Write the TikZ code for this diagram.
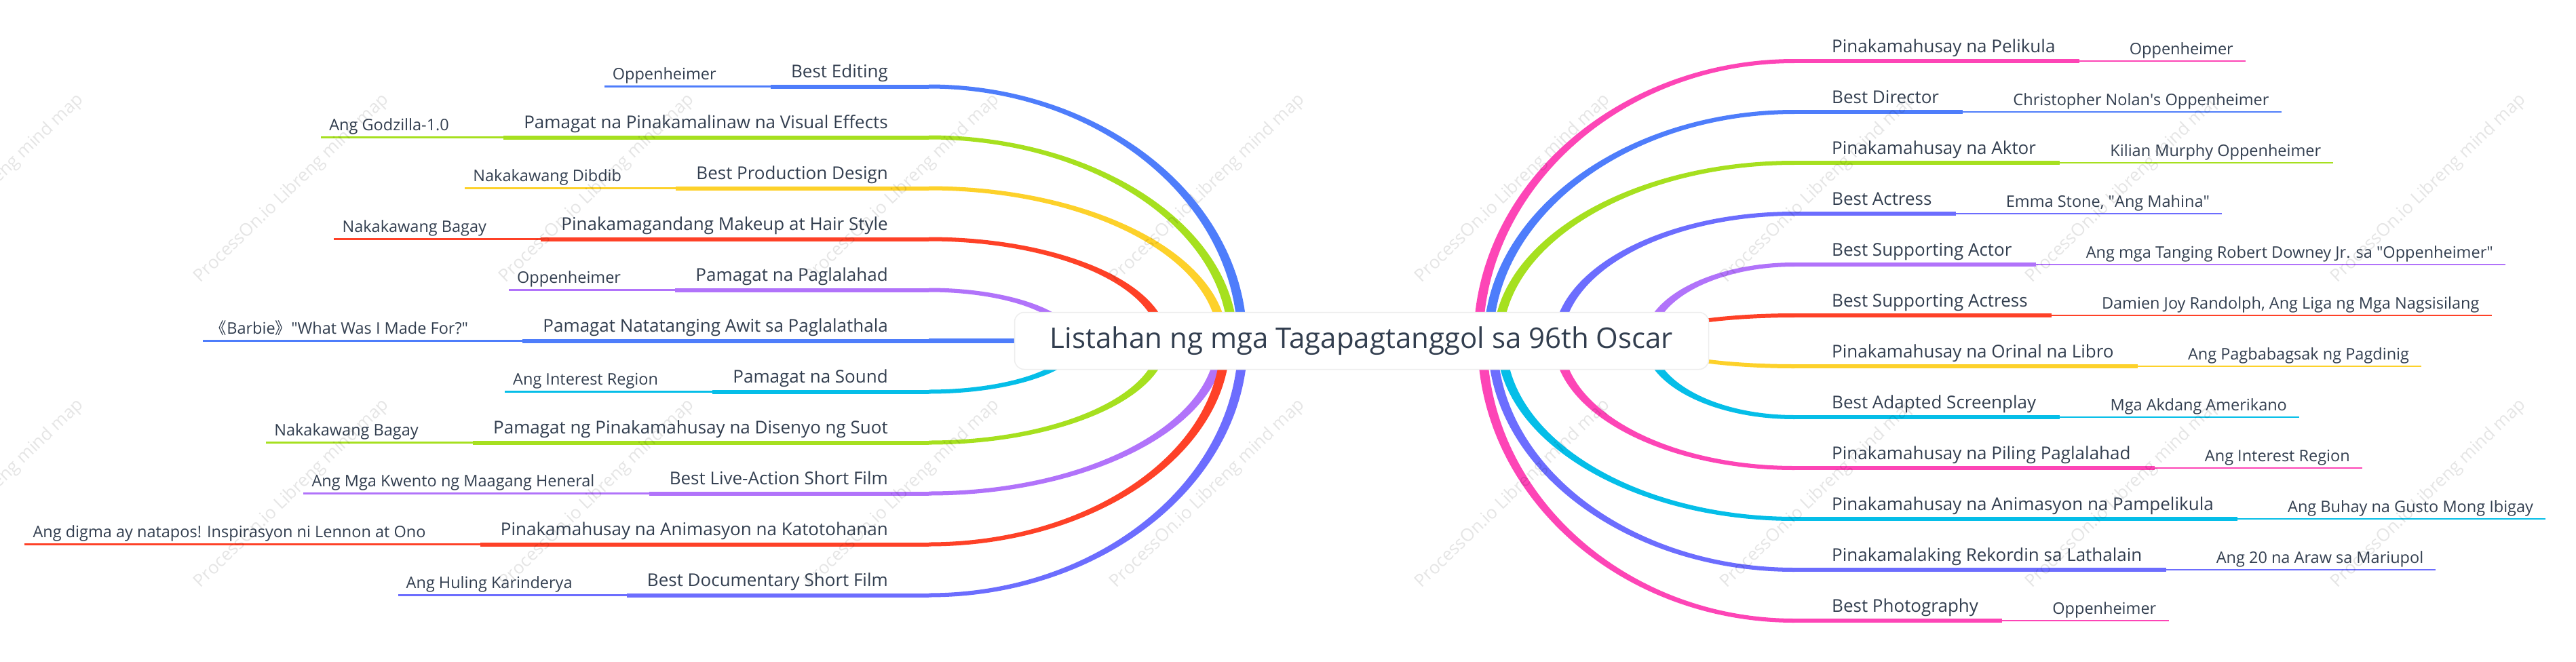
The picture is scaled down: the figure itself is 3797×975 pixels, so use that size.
\documentclass[tikz,border=0pt]{standalone}
\usepackage{fontspec}
\setmainfont{Open Sans}
\newfontfamily\cjk{Noto Sans CJK SC}
\usetikzlibrary{calc}

\definecolor{cblue}{HTML}{4E7DFB}
\definecolor{cgreen}{HTML}{A6E01F}
\definecolor{cyellow}{HTML}{FDD12A}
\definecolor{cred}{HTML}{FE4127}
\definecolor{cpurple}{HTML}{B173FA}
\definecolor{ccyan}{HTML}{05BEE8}
\definecolor{cviolet}{HTML}{6C6DFE}
\definecolor{cpink}{HTML}{FD45B6}
\definecolor{ctext}{HTML}{323E4F}

\tikzset{
    mainlbl/.style={inner sep=0pt, text=ctext, font=\fontsize{26}{30}\selectfont},
    sublbl/.style={inner sep=0pt, text=ctext, font=\fontsize{23.5}{28}\selectfont},
    mainline/.style={line width=6pt},
    subline/.style={line width=2.8pt},
    rootbox/.style={fill=white, draw=black!7, line width=1.5pt, rounded corners=14pt,
        minimum width=1023pt, minimum height=84pt, text=ctext, font=\fontsize{42}{48}\selectfont},
    wmark/.style={text=black, opacity=0.1, font=\fontsize{26}{30}\selectfont}
}

\begin{document}
\begin{tikzpicture}[x=1pt,y=-1pt]
    \useasboundingbox (0,0) rectangle (3797,975);

    % left side
    \foreach \i/\col/\rx/\main/\sub in {
        0/cblue/462/{Best Editing}/{Oppenheimer},
        1/cgreen/448/{Pamagat na Pinakamalinaw na Visual Effects}/{Ang Godzilla-1.0},
        2/cyellow/433/{Best Production Design}/{Nakakawang Dibdib},
        3/cred/345/{Pinakamagandang Makeup at Hair Style}/{Nakakawang Bagay},
        4/cpurple/210/{Pamagat na Paglalahad}/{Oppenheimer},
        5/cblue/0/{Pamagat Natatanging Awit sa Paglalathala}/{{\cjk《}Barbie{\cjk》}\textquotedbl What Was I Made For?\textquotedbl},
        6/ccyan/219/{Pamagat na Sound}/{Ang Interest Region},
        7/cgreen/345/{Pamagat ng Pinakamahusay na Disenyo ng Suot}/{Nakakawang Bagay},
        8/cpurple/430/{Best Live-Action Short Film}/{Ang Mga Kwento ng Maagang Heneral},
        9/cred/437/{Pinakamahusay na Animasyon na Katotohanan}/{Ang digma ay natapos! Inspirasyon ni Lennon at Ono},
        10/cviolet/463/{Best Documentary Short Film}/{Ang Huling Karinderya}}{
        \pgfmathsetmacro\yy{127.5+75*\i}
        \pgfmathsetmacro\s{sign(502.5-\yy)}
        \pgfmathsetmacro\ay{\yy-3*\s}
        \pgfmathsetmacro\by{\yy+3*\s}
        \pgfmathsetmacro\ax{1369+0.55*(\rx+7)}
        \pgfmathsetmacro\bx{1369+0.55*(\rx-7)}
        \pgfmathsetmacro\ea{1369+\rx+7}
        \pgfmathsetmacro\eb{1369+\rx-7}
        \pgfmathsetmacro\ac{502.5-0.55*(502.5-\ay)}
        \pgfmathsetmacro\bc{502.5-0.55*(502.5-\by)}
        \coordinate (Ls\i) at (1369,\yy);
        \node[mainlbl, anchor=base east] (L\i) at (1309,\yy-13) {\main};
        \node[sublbl, anchor=base east] (C\i) at ($(L\i.base west)+(-110,3)$) {\sub};
        \ifnum\rx>0
            \fill[\col] (1369,\ay) .. controls (\ax,\ay) and (\ea,\ac) .. (\ea,502.5)
                -- (\eb,502.5) .. controls (\eb,\bc) and (\bx,\by) .. (1369,\by) -- cycle;
        \else
            \draw[line width=7pt, \col] (Ls\i) -- (1600,\yy);
        \fi
        \draw[mainline, \col] (Ls\i) -- ($(Ls\i -| L\i.west)+(-30,0)$);
        \draw[subline, \col] ($(Ls\i -| L\i.west)+(-30,0)$) -- ($(Ls\i -| C\i.west)+(-12,0)$);
    }

    % right side
    \foreach \i/\col/\rx/\main/\sub in {
        0/cpink/466/{Pinakamahusay na Pelikula}/{Oppenheimer},
        1/cblue/451/{Best Director}/{Christopher Nolan\textquotesingle s Oppenheimer},
        2/cgreen/437/{Pinakamahusay na Aktor}/{Kilian Murphy Oppenheimer},
        3/cviolet/348/{Best Actress}/{Emma Stone, \textquotedbl Ang Mahina\textquotedbl},
        4/cpurple/215/{Best Supporting Actor}/{Ang mga Tanging Robert Downey Jr. sa \textquotedbl Oppenheimer\textquotedbl},
        5/cred/217/{Best Supporting Actress}/{Damien Joy Randolph, Ang Liga ng Mga Nagsisilang},
        6/cyellow/217/{Pinakamahusay na Orinal na Libro}/{Ang Pagbabagsak ng Pagdinig},
        7/ccyan/215/{Best Adapted Screenplay}/{Mga Akdang Amerikano},
        8/cpink/348/{Pinakamahusay na Piling Paglalahad}/{Ang Interest Region},
        9/ccyan/432/{Pinakamahusay na Animasyon na Pampelikula}/{Ang Buhay na Gusto Mong Ibigay},
        10/cviolet/445/{Pinakamalaking Rekordin sa Lathalain}/{Ang 20 na Araw sa Mariupol},
        11/cpink/460/{Best Photography}/{Oppenheimer}}{
        \pgfmathsetmacro\yy{90+75*\i}
        \pgfmathsetmacro\s{sign(502.5-\yy)}
        \pgfmathsetmacro\ay{\yy-3*\s}
        \pgfmathsetmacro\by{\yy+3*\s}
        \pgfmathsetmacro\ax{2645-0.55*(\rx+7)}
        \pgfmathsetmacro\bx{2645-0.55*(\rx-7)}
        \pgfmathsetmacro\ea{2645-\rx-7}
        \pgfmathsetmacro\eb{2645-\rx+7}
        \pgfmathsetmacro\ac{502.5-0.55*(502.5-\ay)}
        \pgfmathsetmacro\bc{502.5-0.55*(502.5-\by)}
        \coordinate (Rs\i) at (2645,\yy);
        \node[mainlbl, anchor=base west] (R\i) at (2700,\yy-13) {\main};
        \node[sublbl, anchor=base west] (D\i) at ($(R\i.base east)+(109,3)$) {\sub};
        \fill[\col] (2645,\ay) .. controls (\ax,\ay) and (\ea,\ac) .. (\ea,502.5)
            -- (\eb,502.5) .. controls (\eb,\bc) and (\bx,\by) .. (2645,\by) -- cycle;
        \draw[mainline, \col] (Rs\i) -- ($(Rs\i -| R\i.east)+(35,0)$);
        \draw[subline, \col] ($(Rs\i -| R\i.east)+(35,0)$) -- ($(Rs\i -| D\i.east)+(18,0)$);
    }

    % centre topic
    \node[rootbox] (root) at (2007,502.5) {Listahan ng mga Tagapagtanggol sa 96th Oscar};

    % watermark
    \foreach \wx [count=\n] in {-20,430,880,1330,1780,2230,2680,3130,3580}
        \foreach \wy in {278,728}
            \node[wmark, rotate=44] (wm\n-\wy) at (\wx,\wy) {ProcessOn.io Libreng mind map};
\end{tikzpicture}
\end{document}
